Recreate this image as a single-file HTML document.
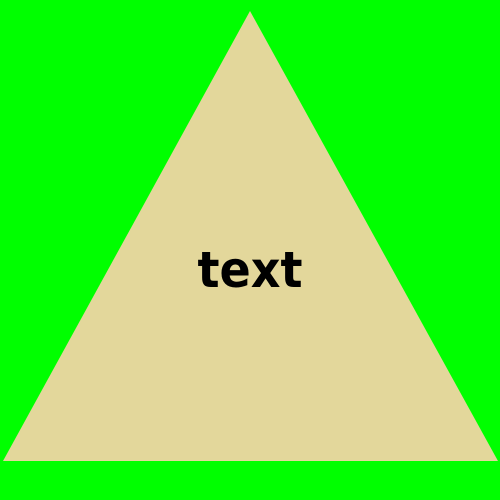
<!DOCTYPE html>
<html><head><style>html,body{margin:0;padding:0;background:#00ff00;overflow:hidden;width:500px;height:500px;}svg{display:block;}</style></head>
<body>
<svg width="500" height="500" viewBox="0 0 500 500">
<rect x="0" y="0" width="500" height="500" fill="#00ff00"/>
<polygon points="250,11 498,461 3,461" fill="#e3d79b"/>
<text x="250" y="287" text-anchor="middle" font-family="DejaVu Sans, Liberation Sans, sans-serif" font-weight="bold" font-size="50" textLength="105" lengthAdjust="spacingAndGlyphs" fill="#000">text</text>
</svg>
</body></html>
